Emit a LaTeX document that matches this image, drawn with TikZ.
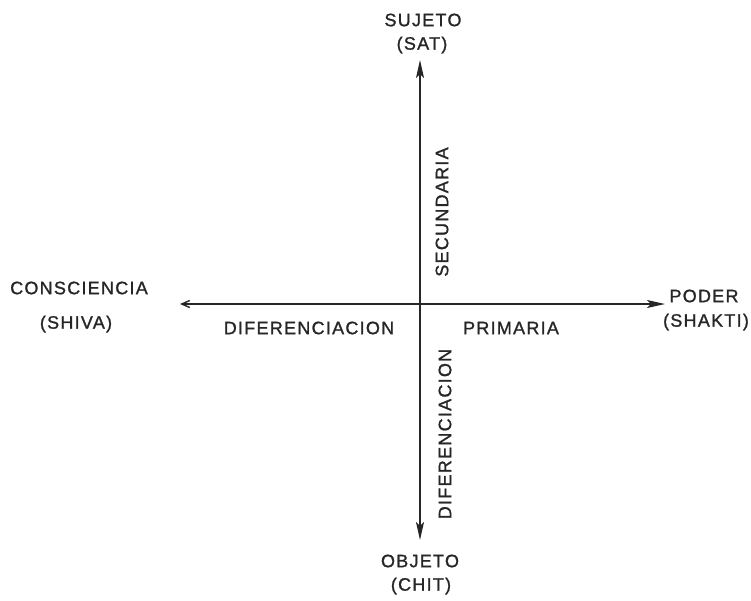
\documentclass[tikz,border=0pt]{standalone}
\usepackage{fontspec}
\setmainfont{Liberation Sans}[LetterSpace=7,FakeBold=1.2]
\usetikzlibrary{arrows.meta}
\tikzset{
  lbl/.style={inner sep=0pt, font=\fontsize{18}{19}\selectfont, text=black!85},
  axis/.style={line width=1.5pt, black!85, -{Stealth[length=18pt,width=8pt,inset=4pt]}},
  axisthin/.style={line width=1.4pt, black!85, -{Straight Barb[length=8pt,width=7pt]}}
}
\begin{document}
\begin{tikzpicture}[x=1pt,y=-1pt]
\useasboundingbox (0,0) rectangle (751,600);
\coordinate (o) at (420,304);
\coordinate (top) at (420,60);
\coordinate (bot) at (420,540);
\coordinate (lft) at (180,304);
\coordinate (rgt) at (665,304);
\node[lbl] (sujeto) at (423,20) {SUJETO};
\node[lbl] (sat) at (422,45) {(SAT)};
\node[lbl] (objeto) at (420,561) {OBJETO};
\node[lbl] (chit) at (421,586) {(CHIT)};
\node[lbl] (conc) at (79,288) {CONSCIENCIA};
\node[lbl] (shiva) at (76,324) {(SHIVA)};
\node[lbl] (poder) at (704,296) {PODER};
\node[lbl] (shakti) at (706,322) {(SHAKTI)};
\node[lbl, rotate=90] (secund) at (442,212) {SECUNDARIA};
\node[lbl] (difh) at (309,328) {DIFERENCIACION};
\node[lbl] (prim) at (511,328) {PRIMARIA};
\node[lbl, rotate=90] (difv) at (445,434) {DIFERENCIACION};
\draw[axis] (o) -- (top);
\draw[axis] (o) -- (bot);
\draw[axis] (o) -- (rgt);
\draw[axisthin] (o) -- (lft);
\end{tikzpicture}
\end{document}
